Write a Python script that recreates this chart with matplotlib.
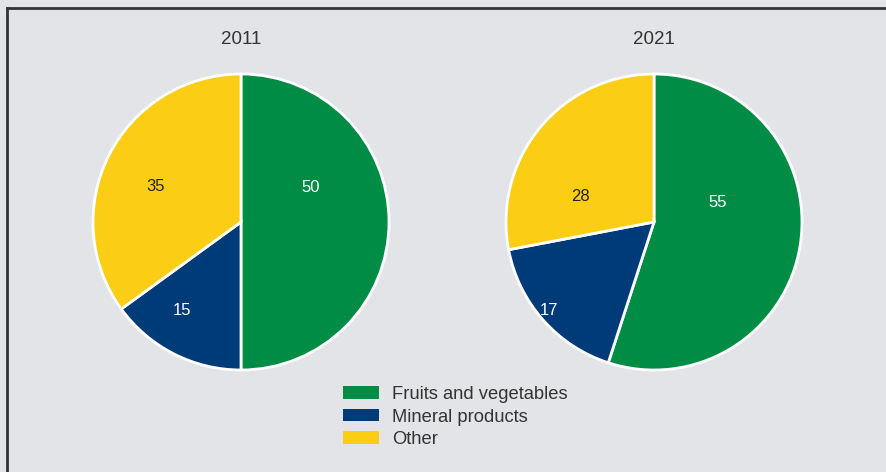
import matplotlib.pyplot as plt
from matplotlib.patches import Patch
from matplotlib.lines import Line2D

plt.rcParams['font.family'] = ['Liberation Sans', 'DejaVu Sans']

categories = ['Fruits and vegetables', 'Mineral products', 'Other']
years = ['2011', '2021']
shares_2011 = [50, 15, 35]
shares_2021 = [55, 17, 28]

colors = ['#008C44', '#003B79', '#FCCD15']
label_colors = ['white', 'white', '#222222']
bg = '#E3E4E8'
txt = '#333333'

# where each share label sits, in pie radius units
label_pos_2011 = [(0.47, 0.24), (-0.40, -0.59), (-0.58, 0.25)]
label_pos_2021 = [(0.43, 0.14), (-0.71, -0.59), (-0.50, 0.18)]

W, H = 886, 472
fig = plt.figure(figsize=(W / 100, H / 100), dpi=100)
fig.patch.set_facecolor(bg)

# frame lines along top and left
fig.add_artist(Line2D([7 / W, 1], [1 - 8 / H, 1 - 8 / H], transform=fig.transFigure,
                      color='#333333', lw=2))
fig.add_artist(Line2D([7 / W, 7 / W], [0, 1 - 8 / H], transform=fig.transFigure,
                      color='#333333', lw=2))

r = 148
centers = [(241, 222), (654, 222)]
data = [shares_2011, shares_2021]
label_pos = [label_pos_2011, label_pos_2021]

for (cx, cy), year, vals, pos in zip(centers, years, data, label_pos):
    ax = fig.add_axes([(cx - r) / W, (H - cy - r) / H, 2 * r / W, 2 * r / H])
    ax.pie(vals, colors=colors, startangle=90, counterclock=False, radius=1,
           wedgeprops=dict(edgecolor='white', linewidth=2))
    ax.set_xlim(-1, 1)
    ax.set_ylim(-1, 1)
    ax.set_aspect('equal')
    ax.axis('off')
    for v, (x, y), c in zip(vals, pos, label_colors):
        ax.text(x, y, str(v), ha='center', va='center_baseline', fontsize=12, color=c)
    fig.text(cx / W, 1 - 44 / H, year, ha='center', va='baseline', fontsize=13.5, color=txt)

handles = [Patch(facecolor=c, edgecolor='none') for c in colors]
fig.legend(handles, categories, loc='upper left', bbox_to_anchor=(343 / W, 1 - 386 / H),
           frameon=False, fontsize=13.25, handlelength=1.96, handleheight=0.65,
           handletextpad=0.7, labelspacing=0.3, labelcolor=txt, borderpad=0,
           borderaxespad=0)

fig.savefig('out.png', dpi=100, facecolor=bg)
